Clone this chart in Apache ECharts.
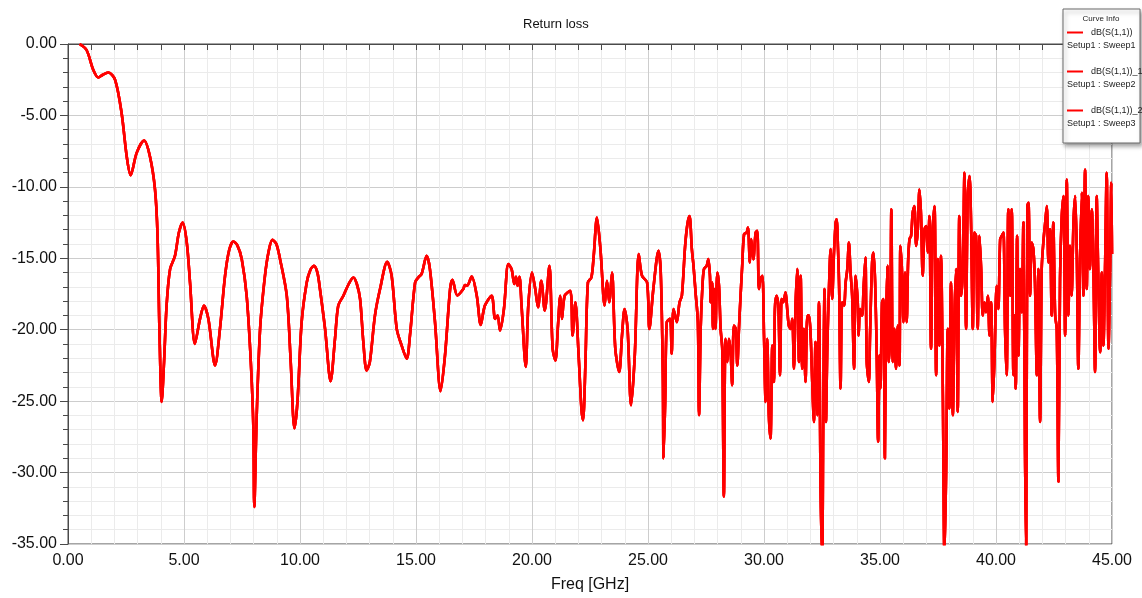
<!DOCTYPE html>
<html>
<head>
<meta charset="utf-8">
<script src="https://cdn.jsdelivr.net/npm/echarts@6/dist/echarts.min.js"></script>
<style>
html,body{margin:0;padding:0;background:#fff;}
#chart{width:1142px;height:598px;}
</style>
</head>
<body>
<div id="chart"></div>
<script>
// ---- data ----
const chartTitle = 'Return loss';
const xAxisName = 'Freq [GHz]';
const curveNames = ['dB(S(1,1))', 'dB(S(1,1))_1', 'dB(S(1,1))_2'];
const curveSetups = ['Setup1 : Sweep1', 'Setup1 : Sweep2', 'Setup1 : Sweep3'];

const freqGHz = [
  0.5,0.8,1.09,1.31,1.5,1.74,2.03,2.31,2.53,2.70,
  2.96,3.28,3.53,3.75,3.86,3.94,4.04,4.14,4.25,4.40,
  4.61,4.78,4.94,5.12,5.26,5.47,5.69,5.86,6.05,6.34,
  6.55,6.77,6.95,7.13,7.3,7.49,7.70,7.88,7.99,8.03,
  8.13,8.28,8.49,8.65,8.81,8.98,9.14,9.43,9.60,9.76,
  9.89,10.07,10.29,10.45,10.60,10.75,10.86,11.08,11.32,11.51,
  11.65,11.87,12.1,12.30,
  12.45,12.59,12.73,12.87,13.01,13.23,13.45,13.76,13.95,14.17,
  14.38,14.60,14.74,14.96,15.10,15.24,15.46,15.60,15.82,16.06,
  16.25,16.47,16.57,16.78,17.04,17.11,17.21,17.40,17.62,17.79,
  17.97,18.26,18.41,18.52,18.62,18.79,18.98,19.12,19.24,19.31,
  19.38,19.46,19.55,19.73,19.84,
  20.0,20.14,20.26,20.40,20.55,20.75,20.89,21.01,21.12,21.22,
  21.29,21.41,21.65,21.75,21.87,22.01,22.13,22.20,22.30,22.41,
  22.56,22.66,22.80,22.95,23.13,23.23,23.33,23.45,23.59,23.76,
  23.88,23.99,24.12,24.27,24.43,24.60,24.74,24.96,25.06,
  25.23,25.45,25.55,25.64,25.67,25.74,25.81,25.95,26.02,26.10,
  26.24,26.36,26.46,26.60,26.70,26.79,26.89,26.96,
  27.05,27.15,27.20,27.27,27.34,27.41,27.53,27.60,27.67,27.70,
  27.77,27.80,27.87,27.91,27.99,28.06,28.13,28.20,28.27,28.34,
  28.42,28.49,28.56,28.63,28.70,28.78,28.85,28.92,28.99,29.06,
  29.14,29.25,29.31,29.39,29.45,29.54,29.64,29.71,29.78,29.85,
  29.93,30.00,30.07,30.14,30.21,30.28,30.36,30.43,30.47,30.54,
  30.62,30.69,30.76,30.83,30.93,31.00,31.07,31.15,31.22,31.29,
  31.36,31.43,31.51,31.58,31.65,31.72,31.79,31.87,31.94,32.01,
  32.08,32.15,32.22,32.30,32.37,32.44,32.51,32.55,32.61,32.67,
  32.73,32.80,32.87,32.94,33.01,33.09,33.13,33.19,33.24,33.30,
  33.37,33.45,33.52,33.59,33.66,33.73,33.80,33.88,33.95,
  34.04,34.08,34.14,34.23,34.29,34.37,34.43,34.52,34.57,34.66,
  34.72,34.79,34.86,34.92,34.98,35.02,35.09,35.15,35.21,35.26,
  35.32,35.38,35.44,35.49,35.55,35.62,35.69,35.77,35.84,35.88,
  35.95,36.01,36.08,36.15,36.21,36.27,36.34,36.41,36.48,36.56,
  36.63,36.70,36.77,36.84,36.92,36.99,37.06,37.13,37.20,37.27,
  37.35,37.42,37.49,37.56,37.63,37.71,37.78,37.85,37.92,37.99,
  38.06,38.14,38.21,38.28,38.35,38.42,38.50,38.57,38.64,38.71,
  38.78,38.86,38.93,39.00,39.07,39.14,39.21,39.29,39.36,39.43,
  39.50,39.57,39.65,39.72,39.79,39.86,39.93,
  40.03,40.10,40.18,40.25,40.32,40.39,40.46,40.53,40.61,40.68,
  40.75,40.79,40.85,40.91,40.97,41.04,41.11,41.18,41.25,41.30,
  41.35,41.40,41.47,41.54,41.61,41.68,41.76,41.83,41.90,41.97,
  42.04,42.12,42.19,42.26,42.33,42.40,42.47,42.55,42.62,42.69,
  42.76,42.83,42.91,42.98,43.05,43.12,43.19,43.26,43.34,43.41,
  43.48,43.55,43.62,43.70,43.77,43.84,43.91,43.98,44.05,44.13,
  44.20,44.27,44.34,44.41,44.49,44.56,44.63,44.70,44.77,44.85,
  44.92,44.97,45.0
];

const s11dB = [
  0,-0.42,-1.81,-2.35,-2.15,-2.0,-2.51,-4.83,-7.86,-9.18,
  -7.62,-6.76,-7.86,-10.18,-13.43,-19.94,-25.05,-22.26,-18.3,-15.76,
  -14.83,-13.2,-12.5,-13.9,-16.7,-20.99,-19.24,-18.3,-19.24,-22.5,
  -19.94,-16.22,-14.4,-13.83,-14.1,-15.06,-17.62,-22.26,-26.9,-32.4,
  -26.2,-19.94,-16.22,-14.5,-13.71,-14.0,-15.06,-17.62,-22.26,-26.9,
  -25.05,-19.48,-16.7,-15.8,-15.53,-16.0,-17.15,-19.94,-23.6,-20.6,
  -18.3,-17.62,-16.8,-16.34,
  -16.8,-17.85,-20.87,-22.85,-22.26,-19.01,-17.15,-15.25,-16.22,-19.94,
  -21.1,-22.03,-20.4,-16.7,-16.34,-16.1,-14.83,-15.76,-19.48,-24.3,
  -21.8,-17.15,-16.5,-17.6,-17.15,-16.87,-16.9,-16.27,-17.62,-19.66,
  -18.31,-17.62,-19.24,-19.01,-20.06,-18.55,-15.41,-15.76,-16.8,-16.29,
  -16.92,-16.29,-18.31,-22.6,-18.31,
  -15.99,-17.15,-18.43,-16.57,-18.66,-15.52,-21.33,-22.15,-19.71,-17.62,
  -19.24,-17.62,-17.27,-20.40,-18.08,-21.80,-25.52,-26.33,-22.50,-16.69,
  -16.34,-14.83,-12.15,-14.36,-18.31,-16.57,-18.08,-15.99,-21.33,-22.96,
  -20.40,-18.55,-19.94,-25.29,-21.80,-14.71,-16.22,-16.69,-19.94,
  -17.15,-14.48,-15.99,-23.19,-29.0,-25.05,-19.47,-19.24,-21.68,-18.55,
  -19.47,-18.08,-17.62,-14.13,-12.6,-12.04,-14.36,-15.5,
  -17.38,-19.47,-25.98,-19.94,-17.15,-15.76,-15.52,-15.06,-16.22,-18.08,
  -16.69,-19.94,-17.15,-19.94,-15.99,-16.92,-19.94,-21.33,-31.68,-20.64,
  -22.26,-20.64,-21.57,-23.89,-19.71,-19.94,-22.50,-19.94,-17.62,-15.52,
  -13.32,-13.2,-12.85,-15.29,-13.66,-15.06,-13.2,-13.08,-17.15,-16.45,
  -16.22,-20.40,-25.05,-20.64,-25.98,-27.61,-21.10,-23.66,-18.55,-17.62,
  -18.31,-23.19,-17.85,-18.08,-17.38,-18.55,-19.71,-19.94,-19.24,-22.73,
  -18.31,-15.76,-22.26,-16.22,-22.73,-19.94,-23.66,-19.01,-19.01,-20.40,
  -23.66,-26.45,-20.87,-25.98,-18.08,-31.09,-36,-27.14,-17.15,-26.45,
  -21.10,-17.15,-14.36,-17.85,-14.83,-12.50,-12.27,-14.36,-17.15,-24.12,
  -18.08,-18.31,-16.69,-15.76,-13.90,-15.99,-17.62,-22.73,-16.22,
  -18.08,-20.40,-18.55,-19.01,-17.15,-14.94,-22.26,-23.66,-20.40,-15.29,
  -14.60,-16.69,-21.80,-27.84,-21.80,-24.12,-18.08,-17.85,-29.0,-19.94,
  -15.52,-22.26,-19.94,-11.57,-22.26,-19.94,-22.73,-19.71,-22.50,-14.13,
  -15.99,-19.47,-15.99,-19.47,-15.29,-13.67,-13.43,-11.81,-11.34,-14.13,
  -12.97,-10.18,-12.04,-16.22,-12.97,-12.74,-14.60,-12.04,-21.33,-12.97,
  -11.34,-23.19,-15.06,-21.10,-14.83,-24.59,-36,-29.93,-19.94,-25.52,
  -16.69,-25.98,-19.01,-15.76,-25.75,-12.04,-17.62,-15.76,-9.02,-19.94,
  -10.64,-9.25,-12.97,-19.94,-13.20,-13.43,-19.94,-13.43,-15.76,-19.01,
  -18.08,-18.78,-17.62,-20.40,-18.08,-25.05,-22.26,
  -16.92,-18.55,-13.67,-13.43,-13.20,-19.94,-23.19,-11.57,-17.62,-11.57,
  -23.19,-19.01,-24.12,-13.43,-21.80,-15.76,-18.78,-12.50,-28.31,-36,
  -11.34,-11.11,-17.62,-13.90,-14.36,-16.69,-23.19,-15.76,-26.45,-15.76,
  -13.90,-12.50,-11.34,-15.29,-12.97,-19.01,-12.50,-19.01,-19.94,-30.63,
  -16.45,-12.27,-10.64,-20.40,-9.48,-19.01,-14.13,-17.62,-12.50,-10.64,
  -14.36,-22.73,-15.29,-10.41,-17.62,-8.79,-17.15,-10.64,-15.76,-11.57,
  -15.76,-22.96,-10.64,-16.45,-21.57,-15.99,-21.10,-15.76,-9.02,-21.33,
  -15.29,-9.72,-14.7
];

const xMin = 0, xMax = 45, xStep = 5;
const yMin = -35, yMax = 0, yStep = 5;

// ---- chart ----
if (freqGHz.length !== s11dB.length) console.warn('length mismatch', freqGHz.length, s11dB.length);
const points = freqGHz.map((f, i) => [f, s11dB[i]]);

const FONT = '"Liberation Sans", Arial, sans-serif';
const axisColor = '#4a4a4a';
const chart = echarts.init(document.getElementById('chart'), null, {renderer: 'canvas'});

const legendTops = [28, 67, 106];
const setupTops = [41, 80, 119];

const option = {
  animation: false,
  backgroundColor: '#fff',
  title: {
    text: chartTitle, left: 523, top: 18, padding: 0,
    textStyle: {fontFamily: FONT, fontSize: 13, fontWeight: 'normal', color: '#111'}
  },
  grid: {left: 68, right: 30, top: 44, bottom: 52, show: true, borderColor: axisColor, borderWidth: 1, backgroundColor: 'transparent'},
  xAxis: {
    type: 'value', min: xMin, max: xMax, interval: xStep,
    name: xAxisName, nameLocation: 'middle', nameGap: 33,
    nameTextStyle: {fontFamily: FONT, fontSize: 16, color: '#111'},
    axisLine: {show: true, lineStyle: {color: axisColor, width: 1}},
    axisTick: {show: true, length: 6, lineStyle: {color: axisColor}},
    minorTick: {show: true, splitNumber: 5, length: 6, lineStyle: {color: axisColor}},
    splitLine: {show: true, lineStyle: {color: '#cdcdcd', width: 1}},
    minorSplitLine: {show: true, lineStyle: {color: '#ebebeb', width: 1}},
    axisLabel: {formatter: v => v.toFixed(2), fontFamily: FONT, fontSize: 16, color: '#111', margin: 9}
  },
  yAxis: {
    type: 'value', min: yMin, max: yMax, interval: yStep,
    axisLine: {show: true, lineStyle: {color: axisColor, width: 1}},
    axisTick: {show: true, length: 8, lineStyle: {color: axisColor}},
    minorTick: {show: true, splitNumber: 5, length: 5, lineStyle: {color: axisColor}},
    splitLine: {show: true, lineStyle: {color: '#cdcdcd', width: 1}},
    minorSplitLine: {show: true, lineStyle: {color: '#ebebeb', width: 1}},
    axisLabel: {formatter: v => v.toFixed(2), fontFamily: FONT, fontSize: 16, color: '#111', margin: 11}
  },
  legend: curveNames.map((n, i) => ({
    data: [n], orient: 'vertical', left: 1067, top: legendTops[i], padding: 0, z: 10,
    icon: 'rect', itemWidth: 16, itemHeight: 2, itemGap: 0, selectedMode: false,
    textStyle: {fontFamily: FONT, fontSize: 9, color: '#222', padding: [0, 0, 0, 3]}
  })),
  graphic: [
    {type: 'rect', z: 5, shape: {x: 1063, y: 9, width: 77, height: 134},
     style: {fill: '#fff', stroke: '#6a6a6a', lineWidth: 1, shadowBlur: 4, shadowOffsetX: 2, shadowOffsetY: 3, shadowColor: 'rgba(0,0,0,0.35)'}},
    {type: 'text', z: 6, x: 1101, y: 19, style: {text: 'Curve Info', fontFamily: FONT, fontSize: 8, fill: '#222', align: 'center', verticalAlign: 'middle'}},
    ...curveSetups.map((s, i) => ({
      type: 'text', z: 6, x: 1067, y: setupTops[i],
      style: {text: s, fontFamily: FONT, fontSize: 9, fill: '#222', align: 'left', verticalAlign: 'top'}
    }))
  ],
  series: curveNames.map((n, i) => ({
    name: n, type: 'line', data: points, showSymbol: false, symbol: 'none',
    clip: true, z: 2 + i, smooth: 0.3,
    lineStyle: {color: '#ff0000', width: 2.6, join: 'round'},
    itemStyle: {color: '#ff0000'}
  }))
};
chart.setOption(option);
</script>
</body>
</html>
